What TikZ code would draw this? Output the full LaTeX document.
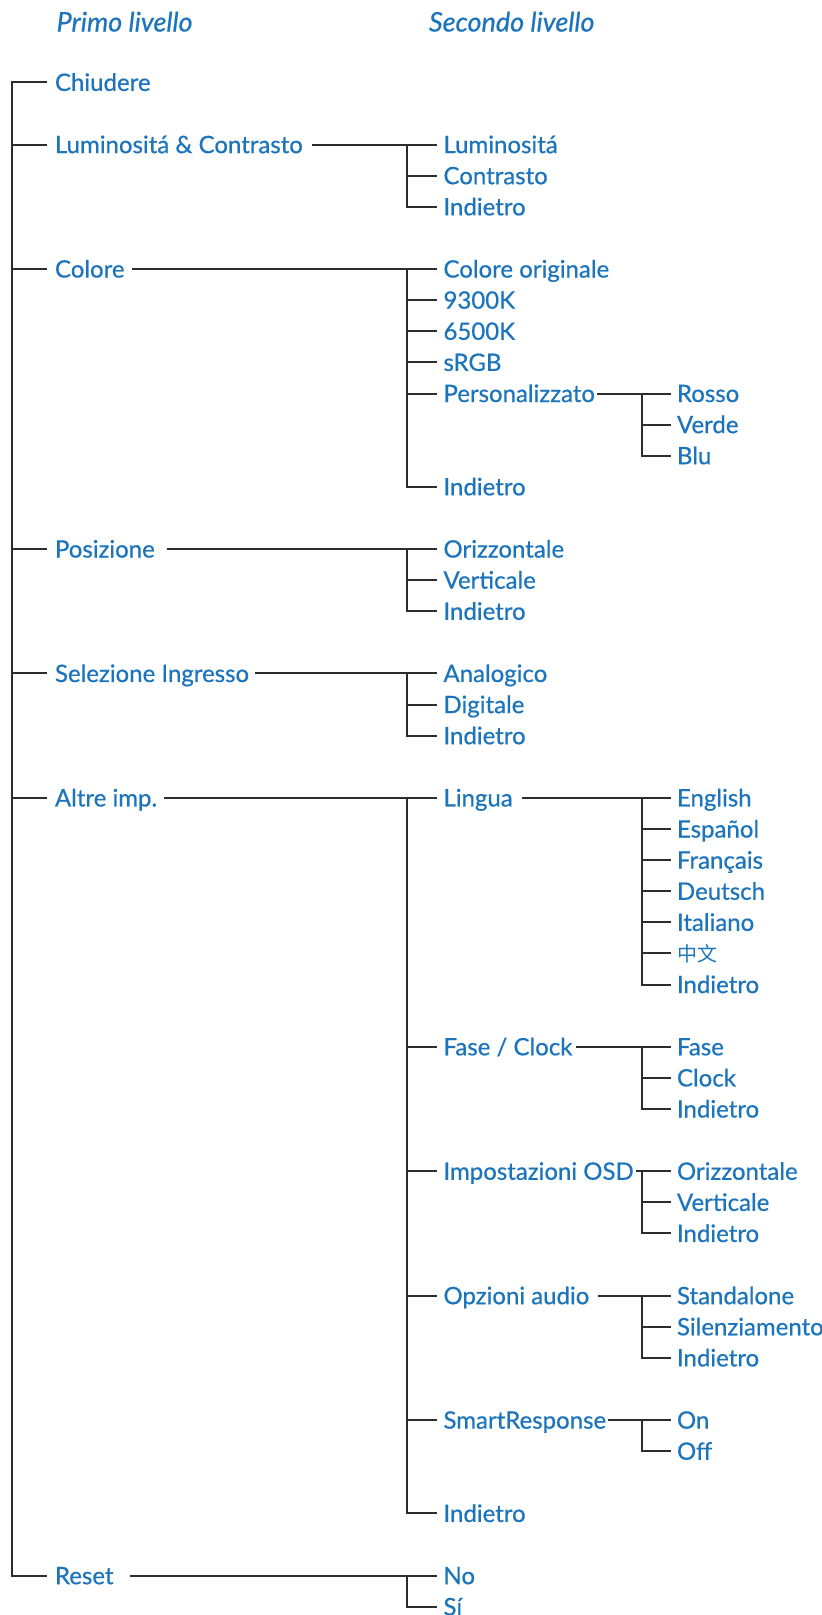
\documentclass[tikz,border=0pt]{standalone}
\usepackage{fontspec}
\setmainfont{Lato}[FakeBold=0.6]
\newfontfamily\cjk{Noto Sans CJK SC}
\definecolor{menublue}{RGB}{28,117,188}
\definecolor{linegray}{RGB}{45,45,45}
\newcommand\itemfont{\fontsize{24}{28}\selectfont}
% group: #1 trunk coord, #2 first, #3 last, #4 gap
\newcommand\grpbase[4]{%
  \draw[conn] ([xshift=-#4]#2.west) -- (#2.west -| #1) -- (#3.west -| #1) -- ([xshift=-#4]#3.west);}
% ticks: #1 trunk, #2 gap, #3 list
\newcommand\grpticks[3]{%
  \foreach \c in {#3} {\draw[conn] (\c.west -| #1) -- ([xshift=-#2]\c.west);}}
\begin{document}
\begin{tikzpicture}[x=1pt,y=-31.11pt,
  item/.style={anchor=west,inner sep=0pt,outer sep=0pt,text height=17pt,text depth=0pt,text=menublue,font=\itemfont},
  head/.style={item,font=\fontsize{27}{31}\selectfont\itshape},
  conn/.style={draw=linegray,line width=2pt}]
\useasboundingbox (0,-2.6487) rectangle (822,49.264);
% trunk coordinates
\coordinate (v0) at (12.4,0);
\coordinate (v2) at (407,0);
\coordinate (v3) at (641.5,0);
% headings
\node[head] (h1) at (56.6,-1.909) {Primo livello};
\node[head] (h2) at (429,-1.909) {Secondo livello};
% level 1
\node[item] (chiudere) at (55,0) {Chiudere};
\node[item] (lumcon) at (55,2) {Luminositá \& Contrasto};
\node[item] (colore) at (55,6) {Colore};
\node[item] (posiz) at (55,15) {Posizione};
\node[item] (selez) at (55,19) {Selezione Ingresso};
\node[item] (altre) at (55,23) {Altre imp.};
\node[item] (reset) at (55,48) {Reset};
% level 2
\node[item] (lum) at (443.5,2) {Luminositá};
\node[item] (contr) at (443.5,3) {Contrasto};
\node[item] (ind1) at (443.5,4) {Indietro};
\node[item] (corig) at (443.5,6) {Colore originale};
\node[item] (k93) at (443.5,7) {9300K};
\node[item] (k65) at (443.5,8) {6500K};
\node[item] (srgb) at (443.5,9) {sRGB};
\node[item] (pers) at (443.5,10) {Personalizzato};
\node[item] (ind2) at (443.5,13) {Indietro};
\node[item] (orizz) at (443.5,15) {Orizzontale};
\node[item] (vert) at (443.5,16) {Verticale};
\node[item] (ind3) at (443.5,17) {Indietro};
\node[item] (analog) at (443.5,19) {Analogico};
\node[item] (digit) at (443.5,20) {Digitale};
\node[item] (ind4) at (443.5,21) {Indietro};
\node[item] (lingua) at (443.5,23) {Lingua};
\node[item] (fase) at (443.5,31) {Fase / Clock};
\node[item] (osd) at (443.5,35) {Impostazioni OSD};
\node[item] (audio) at (443.5,39) {Opzioni audio};
\node[item] (smart) at (443.5,43) {SmartResponse};
\node[item] (ind5) at (443.5,46) {Indietro};
\node[item] (no) at (443.5,48) {No};
\node[item] (si) at (443.5,49) {Sí};
% level 3
\node[item] (rosso) at (677,10) {Rosso};
\node[item] (verde) at (677,11) {Verde};
\node[item] (blu) at (677,12) {Blu};
\node[item] (engl) at (677,23) {English};
\node[item] (espa) at (677,24) {Español};
\node[item] (fran) at (677,25) {Français};
\node[item] (deut) at (677,26) {Deutsch};
\node[item] (ital) at (677,27) {Italiano};
\node[item] (zhong) at (677,28) {{\cjk\fontsize{20}{24}\selectfont 中文}};
\node[item] (ind6) at (677,29) {Indietro};
\node[item] (fase3) at (677,31) {Fase};
\node[item] (clock) at (677,32) {Clock};
\node[item] (ind7) at (677,33) {Indietro};
\node[item] (orizz3) at (677,35) {Orizzontale};
\node[item] (vert3) at (677,36) {Verticale};
\node[item] (ind8) at (677,37) {Indietro};
\node[item] (stand) at (677,39) {Standalone};
\node[item] (silenz) at (677,40) {Silenziamento};
\node[item] (ind9) at (677,41) {Indietro};
\node[item] (on) at (677,43) {On};
\node[item] (off) at (677,44) {Off};
% root trunk
\grpbase{v0}{chiudere}{reset}{8pt}
\grpticks{v0}{8pt}{lumcon,colore,posiz,selez,altre}
% level-1 parents to level 2
\draw[conn] ([xshift=9pt]lumcon.east) -- ([xshift=-7pt]lum.west);
\grpbase{v2}{lum}{ind1}{7pt}
\grpticks{v2}{7pt}{contr}
\draw[conn] ([xshift=7pt]colore.east) -- ([xshift=-7pt]corig.west);
\grpbase{v2}{corig}{ind2}{7pt}
\grpticks{v2}{7pt}{k93,k65,srgb,pers}
\draw[conn] ([xshift=12pt]posiz.east) -- ([xshift=-7pt]orizz.west);
\grpbase{v2}{orizz}{ind3}{7pt}
\grpticks{v2}{7pt}{vert}
\draw[conn] ([xshift=6pt]selez.east) -- ([xshift=-7pt]analog.west);
\grpbase{v2}{analog}{ind4}{7pt}
\grpticks{v2}{7pt}{digit}
\draw[conn] ([xshift=7pt]altre.east) -- ([xshift=-7pt]lingua.west);
\grpbase{v2}{lingua}{ind5}{7pt}
\grpticks{v2}{7pt}{fase,osd,audio,smart}
\draw[conn] ([xshift=16pt]reset.east) -- ([xshift=-7pt]no.west);
\grpbase{v2}{no}{si}{7pt}
% level-2 parents to level 3
\draw[conn] ([xshift=2pt]pers.east) -- ([xshift=-6pt]rosso.west);
\grpbase{v3}{rosso}{blu}{6pt}
\grpticks{v3}{6pt}{verde}
\draw[conn] ([xshift=9pt]lingua.east) -- ([xshift=-6pt]engl.west);
\grpbase{v3}{engl}{ind6}{6pt}
\grpticks{v3}{6pt}{espa,fran,deut,ital,zhong}
\draw[conn] ([xshift=4pt]fase.east) -- ([xshift=-6pt]fase3.west);
\grpbase{v3}{fase3}{ind7}{6pt}
\grpticks{v3}{6pt}{clock}
\draw[conn] ([xshift=2pt]osd.east) -- ([xshift=-6pt]orizz3.west);
\grpbase{v3}{orizz3}{ind8}{6pt}
\grpticks{v3}{6pt}{vert3}
\draw[conn] ([xshift=9pt]audio.east) -- ([xshift=-6pt]stand.west);
\grpbase{v3}{stand}{ind9}{6pt}
\grpticks{v3}{6pt}{silenz}
\draw[conn] ([xshift=2pt]smart.east) -- ([xshift=-6pt]on.west);
\grpbase{v3}{on}{off}{6pt}
\end{tikzpicture}
\end{document}
